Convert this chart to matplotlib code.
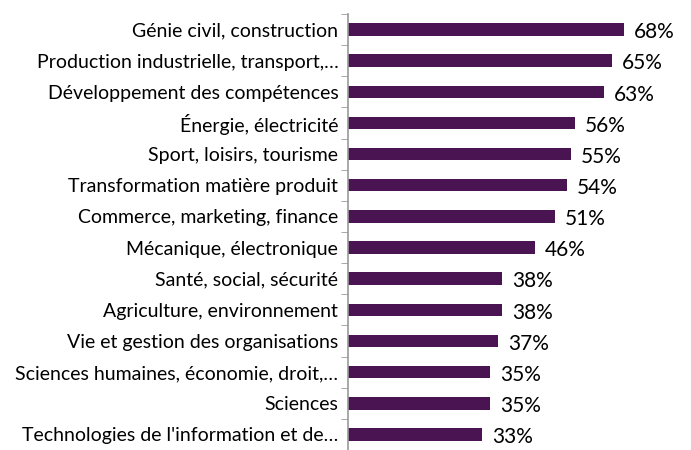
import matplotlib
matplotlib.use("Agg")
from matplotlib import pyplot as plt
import numpy as np

categories = [
    "Génie civil, construction",
    "Production industrielle, transport,…",
    "Développement des compétences",
    "Énergie, électricité",
    "Sport, loisirs, tourisme",
    "Transformation matière produit",
    "Commerce, marketing, finance",
    "Mécanique, électronique",
    "Santé, social, sécurité",
    "Agriculture, environnement",
    "Vie et gestion des organisations",
    "Sciences humaines, économie, droit,…",
    "Sciences",
    "Technologies de l'information et de…",
]
values = [68, 65, 63, 56, 55, 54, 51, 46, 38, 38, 37, 35, 35, 33]
labels = ["68%", "65%", "63%", "56%", "55%", "54%", "51%", "46%",
          "38%", "38%", "37%", "35%", "35%", "33%"]

plt.rcParams['font.family'] = ['Lato', 'DejaVu Sans']

fig = plt.figure(figsize=(6.91, 4.5), dpi=100)
ax = fig.add_axes([0.5036, 0.0, 0.47, 0.969])

y = np.arange(len(categories))
ax.barh(y, values, height=0.4, color="#4a1453")
ax.set_ylim(len(categories) - 0.5, -0.5)
ax.set_xlim(0, 80)

for yi, v, lab in zip(y, values, labels):
    ax.annotate(lab, (v, yi), xytext=(7, -2), textcoords="offset points",
                va="center", ha="left", fontsize=15, color="#000000")

ax.set_yticks(y)
ax.set_yticklabels(categories, fontsize=14, color="#000000")
ax.tick_params(axis="y", which="major", length=0, pad=7)
ax.set_yticks(np.arange(len(categories) + 1) - 0.5, minor=True)
ax.tick_params(axis="y", which="minor", length=5, color="#999999", direction="out")

ax.set_xticks([])
for side in ["top", "right", "bottom"]:
    ax.spines[side].set_visible(False)
ax.spines["left"].set_color("#999999")
ax.spines["left"].set_linewidth(1.2)

fig.savefig("out.png", dpi=100)
